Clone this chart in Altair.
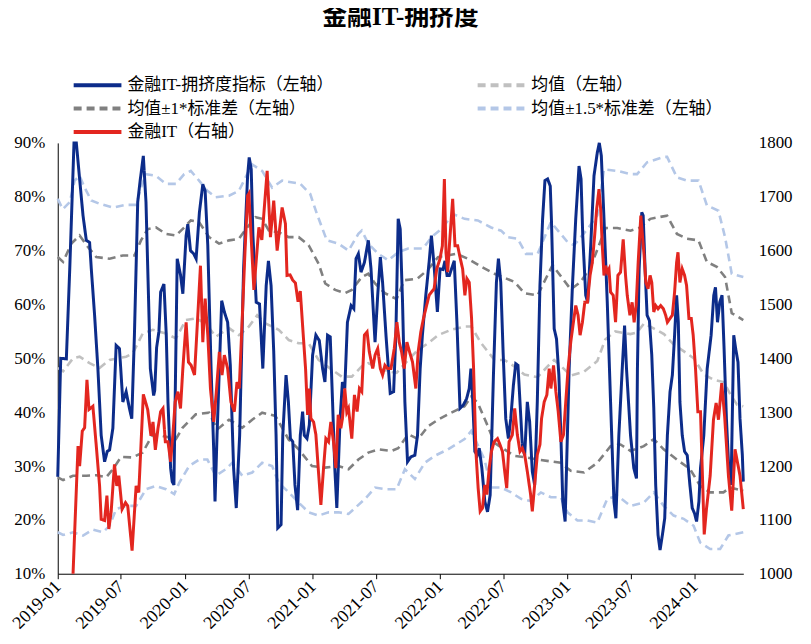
import altair as alt
import pandas as pd

# ---------------- data (month offset from 2019-01, value) ----------------
BLUE = [(0.0,28),(0.28,50),(0.81,49.9),(1.13,66.6),(1.53,90),(1.75,90),(2.06,83.3),(2.38,76.5),(2.69,71.9),(3.0,71.5),(3.16,66.6),(3.47,58),(3.78,48.1),(4.09,35.7),(4.41,30.8),(4.66,32.7),(4.88,33),(5.19,37),(5.5,52.4),(5.81,51.8),(6.13,41.9),(6.44,43.8),(6.75,40.7),(6.97,38.8),(7.22,54.3),(7.53,79),(7.78,83.3),(8.06,87.6),(8.31,79),(8.56,60.4),(8.72,48.1),(9.03,43.1),(9.13,44),(9.31,52),(9.53,55),(9.69,62.3),(10.0,63.8),(10.22,54.3),(10.38,41.9),(10.63,29.6),(10.78,27.1),(10.94,26.5),(11.25,68.5),(11.56,65.5),(11.78,62),(12.09,72.8),(12.25,74.9),(12.5,70),(12.81,69.4),(13.03,68.5),(13.34,77.1),(13.66,82.3),(13.88,81.1),(14.13,70.9),(14.44,48.1),(14.69,32.7),(14.81,23.4),(15.0,35.7),(15.44,60.7),(15.69,58.6),(16.0,56.7),(16.25,48.7),(16.56,29.6),(16.81,22.2),(17.13,35.7),(17.5,66.6),(17.88,83.9),(18.03,87.3),(18.22,85.1),(18.38,72.8),(18.69,60.4),(19.0,60.1),(19.31,48.1),(19.63,63.5),(19.84,68.1),(20.09,63.5),(20.34,51.2),(20.56,35.7),(20.72,18.5),(21.03,19.1),(21.19,35.7),(21.5,46.9),(21.72,41.9),(21.91,35.1),(22.13,34.5),(22.34,26.5),(22.59,21.8),(22.84,35.7),(23.06,40.1),(23.22,35.7),(23.47,35.1),(23.69,37.6),(24.0,50.6),(24.31,54.3),(24.63,53.3),(24.94,48.1),(25.16,45.6),(25.41,54.3),(25.66,54),(25.88,41.9),(26.09,29.6),(26.28,22.2),(26.59,38.8),(26.81,45.6),(27.03,44.4),(27.28,56.7),(27.63,59.8),(27.88,59.2),(28.09,68.5),(28.31,69.4),(28.56,66),(28.88,67.8),(29.25,71.9),(29.5,66.6),(29.88,53),(30.13,61.7),(30.38,68.8),(30.59,64.1),(30.91,54.3),(31.31,43.5),(31.63,43.8),(31.84,54.3),(32.06,75.9),(32.25,74),(32.47,60.4),(32.69,41.9),(32.94,30.8),(33.25,31.7),(33.63,32),(33.88,35.7),(34.13,48.1),(34.34,54.3),(34.66,61.7),(34.97,67.8),(35.19,72.8),(35.44,67.2),(35.75,58.6),(36.0,66.6),(36.28,66.5),(36.47,68.1),(36.66,65.4),(36.88,65.4),(37.34,68.1),(37.59,56.7),(37.88,40.7),(38.19,41.3),(38.5,42.5),(38.75,44.4),(38.91,48.1),(39.06,43.1),(39.28,32.7),(39.5,32),(39.69,33.3),(39.94,29.6),(40.22,23.4),(40.47,21.5),(40.72,24.6),(41.03,46.9),(41.31,64.1),(41.5,68.5),(41.72,64.1),(41.94,51.2),(42.19,38.8),(42.44,35.1),(42.66,38.8),(42.91,45),(43.13,49),(43.34,48.7),(43.53,41.9),(43.75,33.9),(43.97,32),(44.22,41.9),(44.44,38.2),(44.69,29),(44.91,26.5),(45.16,41.9),(45.41,63.5),(45.66,75.9),(45.88,83),(46.13,83.3),(46.38,82),(46.5,75.2),(46.75,55.5),(46.97,53.6),(47.19,46.9),(47.38,35.7),(47.56,23.4),(47.78,19.7),(48.16,48.1),(48.47,63.5),(48.78,75.9),(49.09,85.7),(49.28,83.3),(49.44,72.8),(49.72,61.7),(49.91,60.4),(50.19,70.9),(50.5,83.9),(50.81,88.2),(51.0,90),(51.19,87.6),(51.44,75.9),(51.75,60.4),(52.06,41.9),(52.38,23.4),(52.56,20.3),(52.84,35.7),(53.16,48.1),(53.38,56.1),(53.56,48.1),(53.94,35.7),(54.25,29.6),(54.5,27.7),(54.59,48.1),(54.75,66.6),(55.0,77.1),(55.13,76.5),(55.31,66.6),(55.5,58),(55.72,57),(55.94,50.6),(56.13,40.7),(56.31,26.5),(56.53,17.2),(56.72,14.4),(56.94,17.2),(57.16,20.3),(57.41,35.7),(57.66,43.8),(57.88,46.9),(58.09,54.3),(58.28,61.7),(58.44,56.7),(58.59,41.9),(58.81,35.7),(59.03,32.7),(59.28,32),(59.53,26.5),(59.75,22.2),(59.97,21.2),(60.16,19.7),(60.38,23.4),(60.53,29.6),(60.84,35.7),(61.16,48.1),(61.53,54.3),(61.78,61.7),(61.94,63.2),(62.13,56.7),(62.34,60.4),(62.56,61.7),(62.75,51.8),(62.97,38.8),(63.19,29.6),(63.41,26.5),(63.66,54.3),(63.84,51.8),(64.06,49.3),(64.25,38.8),(64.47,32),(64.56,27.1)]

RED = [(1.44,1000),(1.91,1237),(2.06,1200),(2.31,1265),(2.53,1271),(2.75,1360),(2.94,1305),(3.31,1311),(3.63,1237),(3.94,1163),(4.09,1101),(4.41,1099),(4.63,1145),(4.81,1083),(5.03,1115),(5.34,1203),(5.56,1163),(5.75,1182),(6.06,1120),(6.38,1132),(6.59,1126),(7.0,1043),(7.38,1163),(7.63,1151),(8.06,1333),(8.47,1305),(8.78,1256),(8.97,1282),(9.19,1230),(9.44,1270),(9.69,1301),(9.91,1307),(10.13,1245),(10.38,1245),(10.63,1208),(10.84,1258),(11.06,1319),(11.31,1338),(11.56,1307),(11.78,1381),(12.09,1467),(12.31,1393),(12.56,1387),(12.88,1369),(13.19,1480),(13.44,1572),(13.66,1430),(13.88,1511),(14.13,1443),(14.38,1344),(14.69,1282),(14.91,1332),(15.22,1412),(15.47,1369),(15.69,1406),(16.0,1381),(16.31,1319),(16.63,1301),(16.88,1356),(17.09,1344),(17.31,1443),(17.63,1597),(17.88,1702),(18.0,1706),(18.47,1527),(18.94,1643),(19.22,1620),(19.72,1748),(20.03,1625),(20.34,1693),(20.66,1600),(21.13,1680),(21.44,1650),(21.59,1554),(21.88,1555),(22.13,1545),(22.38,1540),(22.63,1505),(22.84,1525),(23.13,1440),(23.34,1380),(23.53,1295),(23.69,1344),(23.84,1288),(24.09,1282),(24.31,1258),(24.53,1196),(24.78,1128),(25.03,1196),(25.25,1251),(25.5,1245),(25.72,1282),(25.97,1245),(26.19,1196),(26.41,1295),(26.66,1270),(26.81,1288),(27.03,1344),(27.22,1300),(27.38,1307),(27.69,1251),(27.94,1332),(28.19,1301),(28.41,1344),(28.63,1338),(28.88,1443),(29.13,1449),(29.34,1412),(29.66,1381),(29.88,1406),(30.13,1418),(30.38,1381),(30.59,1369),(30.81,1387),(31.06,1381),(31.38,1381),(31.69,1418),(31.94,1467),(32.16,1430),(32.38,1412),(32.63,1381),(32.88,1430),(33.13,1412),(33.41,1393),(33.72,1344),(33.94,1412),(34.19,1449),(34.44,1474),(34.66,1492),(34.97,1517),(35.19,1523),(35.44,1529),(35.69,1566),(36.0,1585),(36.22,1609),(36.41,1733),(36.56,1597),(36.72,1560),(36.88,1609),(37.19,1696),(37.41,1609),(37.66,1609),(37.91,1585),(38.13,1566),(38.34,1517),(38.53,1548),(38.75,1541),(38.97,1474),(39.16,1381),(39.38,1227),(39.59,1159),(39.78,1116),(40.0,1122),(40.22,1165),(40.41,1147),(40.63,1196),(40.84,1227),(41.09,1245),(41.41,1251),(41.66,1239),(41.88,1227),(42.09,1190),(42.28,1159),(42.5,1245),(42.81,1258),(43.03,1307),(43.28,1258),(43.53,1227),(43.75,1233),(43.97,1221),(44.22,1190),(44.53,1147),(44.69,1116),(44.91,1165),(45.16,1221),(45.41,1240),(45.56,1288),(45.81,1319),(46.06,1332),(46.28,1381),(46.44,1344),(46.69,1387),(46.91,1338),(47.13,1301),(47.38,1245),(47.63,1258),(47.84,1319),(48.06,1381),(48.31,1430),(48.56,1467),(48.78,1498),(49.0,1480),(49.19,1443),(49.41,1467),(49.63,1504),(49.88,1504),(50.13,1554),(50.34,1578),(50.56,1628),(50.75,1677),(50.97,1714),(51.13,1677),(51.28,1609),(51.44,1554),(51.59,1572),(51.75,1560),(51.91,1566),(52.06,1523),(52.31,1517),(52.53,1467),(52.75,1554),(53.0,1560),(53.25,1621),(53.47,1554),(53.63,1517),(53.88,1480),(54.09,1504),(54.28,1467),(54.47,1498),(54.66,1578),(54.91,1665),(55.06,1628),(55.22,1591),(55.38,1541),(55.59,1529),(55.78,1554),(55.94,1541),(56.13,1486),(56.31,1498),(56.53,1492),(56.78,1498),(57.03,1492),(57.25,1480),(57.41,1467),(57.66,1474),(57.88,1480),(58.09,1523),(58.28,1578),(58.41,1597),(58.59,1541),(58.81,1566),(59.03,1554),(59.22,1535),(59.44,1474),(59.66,1474),(59.84,1443),(60.06,1381),(60.28,1301),(60.53,1301),(60.69,1196),(60.88,1073),(61.09,1120),(61.44,1182),(61.75,1286),(62.0,1317),(62.22,1286),(62.53,1354),(62.81,1290),(63.16,1182),(63.47,1117),(63.78,1231),(64.25,1182),(64.56,1120)]

MEAN = [(0.0,48.2),(0.5,47.6),(1.44,50),(2.06,50.3),(3.0,49.1),(3.94,48.2),(4.88,49.7),(6.44,50.3),(7.06,50.9),(8.0,54.6),(8.94,55.3),(10.19,54.6),(11.13,53.7),(12.06,57.1),(13.0,57.4),(13.94,56.5),(14.88,54),(16.13,55.6),(17.06,54.3),(18.0,55.9),(18.78,58),(19.56,56.5),(20.81,55.3),(21.75,53.4),(22.69,52.8),(23.63,52.8),(24.56,49.7),(25.81,47.9),(26.75,46.6),(27.69,46.6),(28.63,48.5),(29.25,49.1),(30.19,48.2),(31.13,47.6),(31.91,47.3),(33.0,49.7),(33.94,51.6),(34.88,52.8),(35.81,54.3),(37.06,55.3),(38.31,55.9),(38.94,55.9),(39.88,52.8),(41.13,49.7),(42.06,49.7),(43.0,48.5),(43.94,47),(45.19,46.5),(46.13,48.5),(46.75,49.7),(47.69,48),(48.31,46.8),(49.56,47.5),(50.81,49.5),(51.56,53.5),(52.5,55),(53.91,54.5),(54.56,54.8),(55.22,56.5),(56.16,55.5),(57.09,54.5),(58.03,52.5),(58.97,51.3),(59.91,50),(60.84,47),(61.78,46),(62.72,45.6),(63.34,43.3),(63.97,41.4),(64.56,41.1)]

UP1 = [(0.0,68.8),(0.5,67.9),(1.28,71.3),(2.06,72.8),(2.84,70.7),(3.63,68.8),(4.88,68.5),(6.13,69.1),(7.22,69.1),(7.84,71.9),(8.47,74),(9.25,74.3),(10.19,73.1),(11.13,72.8),(11.91,74.3),(12.53,75.6),(13.31,75.3),(14.25,72.5),(15.19,71.3),(16.13,71.9),(17.06,72.2),(17.84,74.3),(18.63,76.2),(19.25,75.9),(19.88,73.7),(20.81,73.4),(21.75,72.5),(22.69,72.5),(23.63,71),(24.56,67.6),(25.19,63.9),(26.13,62.7),(27.06,62.1),(27.69,62.7),(28.63,65.1),(29.25,65.7),(29.88,63.9),(30.81,62.1),(31.91,61),(32.63,64.5),(33.88,64.8),(34.88,66.5),(35.81,68.8),(37.53,69.4),(38.63,68.5),(39.88,67),(41.13,65.7),(43.0,64.2),(43.94,62.1),(45.19,61.7),(46.59,67.3),(48.31,62.8),(49.25,64.2),(50.19,67),(50.97,71),(51.59,74.2),(52.69,74.2),(53.94,73.7),(54.88,74.3),(55.81,75.9),(57.38,76.5),(58.31,73.1),(59.25,72.2),(60.34,71.9),(61.13,67.9),(62.06,67),(62.84,65.1),(63.47,58.4),(64.56,57.1)]

LO1 = [(0.0,27.9),(0.5,27.4),(1.44,28.2),(2.69,28.2),(3.63,28.3),(4.56,27.9),(5.19,29.4),(5.97,31.7),(7.06,31.6),(8.0,32.5),(8.94,35.9),(9.88,35.6),(11.13,35),(11.75,37.1),(13.0,39.6),(14.25,39.9),(15.03,36.8),(16.13,38.6),(17.38,37.1),(18.31,38.6),(19.25,39.9),(20.5,39.3),(21.75,34.9),(22.69,33.1),(23.94,30),(25.19,29.7),(26.44,30),(27.38,29.4),(28.31,31.2),(29.25,32.5),(30.19,33.1),(31.44,32.8),(32.06,33.3),(33.0,35.9),(33.94,35),(34.88,37.4),(35.81,38.6),(37.06,39.9),(38.31,41.1),(38.94,42.9),(39.56,41.7),(40.5,37.4),(41.13,34.3),(42.06,33.1),(43.0,31.9),(44.09,31.6),(45.19,31.2),(47.38,30.6),(48.31,29.1),(49.56,28.8),(50.81,30.6),(52.06,33.7),(53.0,34),(53.94,32.8),(55.19,33.7),(56.13,35),(57.06,33.1),(58.31,31.2),(59.56,29.4),(60.5,26.3),(61.44,25.1),(62.69,25.1),(63.31,26),(64.56,25.4)]

UP15 = [(0.0,79.6),(0.47,77.7),(1.13,79),(1.59,83),(2.06,83.9),(2.53,81.7),(3.16,79.3),(3.94,78.7),(5.19,78),(6.44,78.5),(7.38,78.5),(7.84,81.7),(8.31,84.2),(9.25,83.9),(10.19,82.4),(11.13,82.4),(11.91,84.2),(12.53,84.8),(13.31,83),(14.09,81.1),(14.88,79.9),(16.13,80.2),(17.06,81.1),(17.84,84.2),(18.31,86),(19.25,84.8),(20.19,81.7),(21.13,83),(22.84,82.4),(23.78,80.5),(24.41,76.8),(25.34,71.9),(26.44,71.3),(27.38,70),(28.31,73.1),(28.63,73.7),(29.25,71.3),(30.19,69.4),(31.13,68.2),(32.06,69.7),(33.0,70.4),(34.41,70.4),(35.19,72.5),(36.13,74),(37.22,76.8),(38.31,75.9),(39.56,75.6),(40.81,74.3),(41.75,73.7),(42.38,72.5),(43.31,72.2),(44.09,69.4),(45.19,69.4),(46.44,75.3),(48.0,71.6),(48.63,71),(49.88,74),(50.81,76.5),(51.44,85.1),(52.69,84.8),(53.94,84.2),(54.56,84.2),(55.5,86.4),(57.06,87.4),(57.38,87.4),(58.31,83.6),(59.25,83),(60.34,83),(61.13,78.4),(62.22,77.4),(62.84,72.5),(63.47,65.7),(64.56,65.1)]

LO15 = [(0.0,17.7),(0.5,17.2),(1.44,17.7),(2.38,17.1),(3.31,18.2),(4.25,17.7),(4.88,18.9),(5.5,22),(6.44,22.6),(7.38,22.6),(8.31,25.7),(9.25,26.3),(10.19,25.7),(10.97,24.8),(11.44,26.9),(12.38,30),(13.31,31.2),(14.09,31.2),(14.88,28.2),(15.81,29.4),(16.44,30.6),(17.38,28.2),(18.31,28.8),(19.25,30.6),(20.19,30),(20.81,26.9),(21.75,25.1),(22.69,23.2),(23.63,21.4),(24.56,20.8),(25.5,21.4),(26.44,21.4),(27.38,21.1),(28.94,23.9),(29.88,26),(30.81,25.7),(31.91,25.7),(32.69,29.4),(33.63,27.6),(34.56,30.6),(35.5,31.9),(36.75,33.1),(38.31,35),(38.94,36.5),(40.19,31.2),(40.81,26),(41.75,26),(42.69,25.1),(43.63,23.9),(44.56,23.5),(45.5,25.1),(46.44,24.2),(47.38,24.2),(48.0,21.4),(48.94,19.9),(49.88,19.9),(50.81,19.5),(51.75,23.9),(52.69,24.5),(53.94,22.6),(55.19,23.2),(56.13,25.1),(57.06,22.6),(58.0,20.8),(58.94,20.2),(59.88,18.9),(60.5,15.8),(61.44,14.6),(62.38,14.6),(63.16,17.1),(64.56,17.7)]

# series names; the legend lays entries out column by column (3 rows)
S_BLUE = "金融IT-拥挤度指标（左轴）"
S_MEAN = "均值（左轴）"
S_SD1 = "均值±1*标准差（左轴）"
S_SD15 = "均值±1.5*标准差（左轴）"
S_RED = "金融IT（右轴）"
NAMES = [S_BLUE, S_SD1, S_RED, S_MEAN, S_SD15]
COLORS = ["#0C2C8A", "#808080", "#E3261F", "#C0C0C0", "#B4C7E7"]
DASHES = [[1, 0], [8, 5], [1, 0], [8, 5], [8, 5]]
LEFT_TICKS = [10, 20, 30, 40, 50, 60, 70, 80, 90]
RIGHT_TICKS = [1000, 1100, 1200, 1300, 1400, 1500, 1600, 1700, 1800]

START = pd.Timestamp("2019-01-01")
DAYS_PER_MONTH = 30.4375


def frame(pairs, series, part):
    return pd.DataFrame({
        "date": [START + pd.Timedelta(days=m * DAYS_PER_MONTH) for m, _ in pairs],
        "value": [v for _, v in pairs],
        "series": series,
        "part": part,
    })


band_df = pd.concat([
    frame(MEAN, S_MEAN, "mean"),
    frame(UP1, S_SD1, "up1"),
    frame(LO1, S_SD1, "lo1"),
    frame(UP15, S_SD15, "up15"),
    frame(LO15, S_SD15, "lo15"),
], ignore_index=True)
blue_df = frame(BLUE, S_BLUE, "blue")
red_df = frame(RED, S_RED, "red")

end = blue_df["date"].max()


def dt(ts):
    return alt.DateTime(year=ts.year, month=ts.month, date=ts.day, hours=ts.hour)


TICKS = [alt.DateTime(year=y, month=m, date=1)
         for y in range(2019, 2025) for m in (1, 7) if not (y == 2024 and m == 7)]

SERIF = "Liberation Serif, Noto Sans CJK SC"

# long flat legend stroke drawn as a custom path so the rows can stay compact
LEGEND = alt.Legend(title=None, orient="none", legendX=14, legendY=-72, columns=2,
                    symbolType="M-1,0H3", symbolSize=576, symbolStrokeWidth=4,
                    labelFont=SERIF, labelFontSize=17, labelColor="black", labelLimit=400,
                    columnPadding=136, rowPadding=1.5, labelOffset=28, gridAlign="all")

color = alt.Color("series:N", scale=alt.Scale(domain=NAMES, range=COLORS), legend=LEGEND)
dash = alt.StrokeDash("series:N", scale=alt.Scale(domain=NAMES, range=DASHES), legend=LEGEND)

X = alt.X("date:T", title=None,
          scale=alt.Scale(domain=[dt(START), dt(end)]),
          axis=alt.Axis(values=TICKS, format="%Y-%m", labelAngle=-45, labelAlign="right",
                        labelBaseline="middle", labelFont=SERIF, labelFontSize=18,
                        labelColor="black", domainColor="black", tickColor="black",
                        tickSize=5, grid=False, labelPadding=5, labelOverlap=False,
                        labelFlush=False))

YL = alt.Y("value:Q", title=None,
           scale=alt.Scale(domain=[10, 90], nice=False, zero=False),
           axis=alt.Axis(orient="left", values=LEFT_TICKS, labelExpr="datum.value + '%'",
                         labelFont=SERIF, labelFontSize=17, labelColor="black",
                         domainColor="black", ticks=False, grid=False, labelPadding=13))
YB = alt.Y("value:Q", title=None,
           scale=alt.Scale(domain=[10, 90], nice=False, zero=False), axis=None)
YR = alt.Y("value:Q", title=None,
           scale=alt.Scale(domain=[1000, 1800], nice=False, zero=False),
           axis=alt.Axis(orient="right", values=RIGHT_TICKS, format="d",
                         labelFont=SERIF, labelFontSize=17, labelColor="black",
                         domain=False, ticks=False, grid=False, labelPadding=15))

bands = alt.Chart(band_df).mark_line(strokeWidth=2.6).encode(
    x=X, y=YL, color=color, strokeDash=dash, detail="part:N")
blue = alt.Chart(blue_df).mark_line(strokeWidth=3).encode(
    x=X, y=YB, color=color, strokeDash=dash)
red = alt.Chart(red_df).mark_line(strokeWidth=3).encode(
    x=X, y=YR, color=color, strokeDash=dash)

chart = alt.layer(bands, blue, red).resolve_scale(y="independent").properties(
    width=689, height=433,
    padding={"left": 50, "top": 134, "right": 60, "bottom": 62},
    autosize=alt.AutoSizeParams(type="none"),
    title=alt.TitleParams("金融IT-拥挤度", font=SERIF, fontSize=25,
                          fontWeight="bold", color="black", anchor="middle", offset=41),
).configure_view(stroke=None)

chart.save("out.html", embed_options={"renderer": "svg", "actions": False})
